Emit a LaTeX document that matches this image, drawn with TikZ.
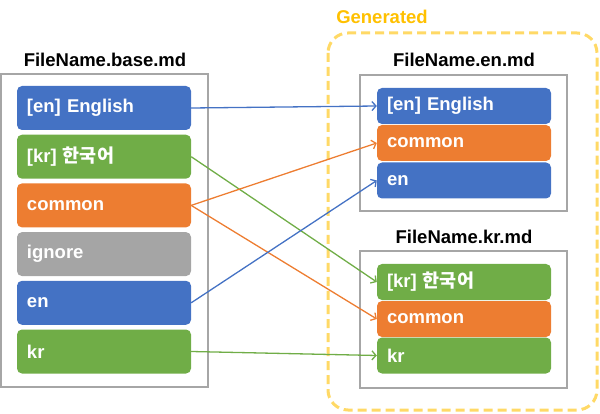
\documentclass[tikz,border=0pt]{standalone}
\usepackage{fontspec}
\setmainfont{Liberation Sans}
\newfontfamily\kor{Noto Sans CJK KR}
\usetikzlibrary{arrows.meta}
\definecolor{cblue}{HTML}{4472C4}
\definecolor{cgreen}{HTML}{70AD47}
\definecolor{corange}{HTML}{ED7D31}
\definecolor{cgray}{HTML}{A5A5A5}
\definecolor{cframe}{HTML}{A6A6A6}
\definecolor{cgen}{HTML}{FFC000}
\definecolor{cdash}{HTML}{FFD966}
\begin{document}
\begin{tikzpicture}[x=1pt,y=-1pt,
  font=\bfseries\fontsize{18.5}{20}\selectfont,
  item/.style={fill=#1, draw=none, rounded corners=5pt, text=white,
    text width=154pt, align=left, inner xsep=10pt, inner ysep=0pt,
    minimum height=44pt, anchor=center},
  ritem/.style={item=#1, minimum height=36pt},
  frame/.style={draw=cframe, line width=1.5pt},
  title/.style={text=black, inner sep=0pt},
  conn/.style={draw=#1, line width=1.3pt, -{Straight Barb[length=4pt,width=9pt]}}]
\useasboundingbox (0,0) rectangle (600,414);
% generated area
\draw[cdash, line width=3pt, dash pattern=on 9pt off 5pt, rounded corners=20pt] (328,33) rectangle (597,410);
\node[text=cgen, inner sep=0pt] (gen) at (382,17) {Generated};
% frames
\draw[frame] (1,74) rectangle (208,387);
\draw[frame] (360,75) rectangle (567,211);
\draw[frame] (360,251) rectangle (567,388);
\node[title] (tbase) at (105,60) {FileName.base.md};
\node[title] (ten) at (464,60) {FileName.en.md};
\node[title] (tkr) at (464,237) {FileName.kr.md};
% left items
\node[item=cblue]   (lEn)  at (104,108)   {[en] English};
\node[item=cgreen]  (lKr)  at (104,156.7) {[kr] {\kor 한국어}};
\node[item=corange] (lCom) at (104,205.4) {common};
\node[item=cgray]   (lIg)  at (104,254.1) {ignore};
\node[item=cblue]   (lE)   at (104,302.8) {en};
\node[item=cgreen]  (lK)   at (104,351.5) {kr};
% right en items
\node[ritem=cblue]   (eEn)  at (464,106)   {[en] English};
\node[ritem=corange] (eCom) at (464,143)   {common};
\node[ritem=cblue]   (eE)   at (464,180.5) {en};
% right kr items
\node[ritem=cgreen]  (kKr)  at (464,282)   {[kr] {\kor 한국어}};
\node[ritem=corange] (kCom) at (464,319)   {common};
\node[ritem=cgreen]  (kK)   at (464,355.5) {kr};
% connectors
\draw[conn=cblue]   (lEn.east)  -- (eEn.west);
\draw[conn=cgreen]  (lKr.east)  -- (kKr.west);
\draw[conn=corange] (lCom.east) -- (eCom.west);
\draw[conn=corange] (lCom.east) -- (kCom.west);
\draw[conn=cblue]   (lE.east)   -- (eE.west);
\draw[conn=cgreen]  (lK.east)   -- (kK.west);
\end{tikzpicture}
\end{document}
